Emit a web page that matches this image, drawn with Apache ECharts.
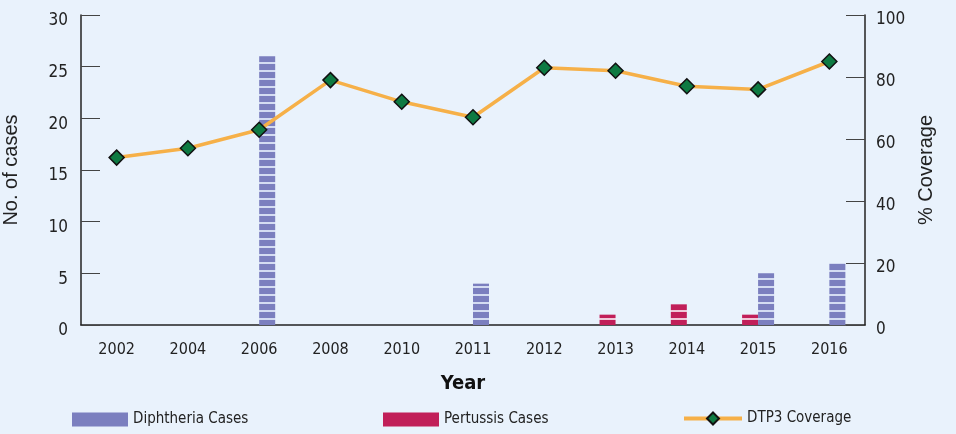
<!DOCTYPE html>
<html>
<head>
<meta charset="utf-8">
<script src="https://cdn.jsdelivr.net/npm/echarts@6/dist/echarts.min.js"></script>
<style>
  html, body { margin: 0; padding: 0; background: #e9f2fc; }
  #chart { width: 956px; height: 434px; }
</style>
</head>
<body>
<div id="chart"></div>
<script>
// data
const years = ['2002', '2004', '2006', '2008', '2010', '2011', '2012', '2013', '2014', '2015', '2016'];
const diphtheriaCases = [null, null, 26, null, null, 4, null, null, null, 5, 6];
const pertussisCases = [null, null, null, null, null, null, null, 1, 2, 1, null];
const dtp3Coverage = [54, 57, 63, 79, 72, 67, 83, 82, 77, 76, 85];

const narrow = '"DejaVu Sans Condensed", "Liberation Sans Narrow", "Arial Narrow", sans-serif';
const regular = '"Liberation Sans", Arial, sans-serif';

// striped fill like the original bars
function stripes (base, line) {
  const c = document.createElement('canvas');
  c.width = 16;
  c.height = 8;
  const ctx = c.getContext('2d');
  ctx.fillStyle = base;
  ctx.fillRect(0, 0, 16, 8);
  ctx.fillStyle = line;
  ctx.fillRect(0, 6, 16, 2);
  return { image: c, repeat: 'repeat' };
}

const blue = '#7b7fbf';
const red = '#c11f59';

const chart = echarts.init(document.getElementById('chart'));
chart.setOption({
  backgroundColor: '#e9f2fc',
  animation: false,
  grid: { left: 81, right: 91, top: 15, bottom: 109, outerBoundsMode: 'none', containLabel: false },
  legend: [
    {
      left: 67, top: 407, itemWidth: 56, itemHeight: 14, itemGap: 0, icon: 'rect',
      textStyle: { fontFamily: narrow, fontSize: 15, color: '#222' },
      data: [{ name: 'Diphtheria Cases', itemStyle: { color: blue } }]
    },
    {
      left: 378, top: 407, itemWidth: 56, itemHeight: 14, itemGap: 0, icon: 'rect',
      textStyle: { fontFamily: narrow, fontSize: 15, color: '#222' },
      data: [{ name: 'Pertussis Cases', itemStyle: { color: red } }]
    },
    {
      left: 677, top: 406, itemWidth: 58, itemHeight: 15, itemGap: 0,
      textStyle: { fontFamily: narrow, fontSize: 15, color: '#222' },
      data: [{ name: 'DTP3 Coverage', lineStyle: { width: 4 } }]
    }
  ],
  xAxis: {
    type: 'category',
    data: years,
    name: 'Year',
    nameLocation: 'middle',
    nameGap: 49,
    nameTextStyle: { fontFamily: narrow, fontSize: 20, fontWeight: 'bold', color: '#111', padding: [0, 20, 0, 0] },
    axisLine: { lineStyle: { color: '#222', width: 1.5 } },
    axisTick: { inside: true, length: 8, lineStyle: { color: '#333' } },
    axisLabel: { fontFamily: narrow, fontSize: 16, color: '#222', margin: 17 }
  },
  yAxis: [
    {
      type: 'value',
      min: 0, max: 30, interval: 5,
      name: 'No. of cases',
      nameLocation: 'middle',
      nameGap: 60,
      nameTextStyle: { fontFamily: regular, fontSize: 20, color: '#222' },
      axisLine: { show: true, lineStyle: { color: '#222', width: 1.5 } },
      axisTick: { show: true, inside: true, length: 19, lineStyle: { color: '#444' } },
      axisLabel: { fontFamily: narrow, fontSize: 17, color: '#222', margin: 13, verticalAlign: 'top', lineHeight: 12 },
      splitLine: { show: false }
    },
    {
      type: 'value',
      min: 0, max: 100, interval: 20,
      name: '% Coverage',
      nameLocation: 'middle',
      nameGap: 45,
      nameTextStyle: { fontFamily: regular, fontSize: 20, color: '#222' },
      axisLine: { show: true, lineStyle: { color: '#222', width: 1.5 } },
      axisTick: { show: true, inside: true, length: 19, lineStyle: { color: '#444' } },
      axisLabel: { fontFamily: narrow, fontSize: 17, color: '#222', margin: 11, verticalAlign: 'top', lineHeight: 10 },
      splitLine: { show: false }
    }
  ],
  series: [
    {
      name: 'Pertussis Cases',
      type: 'bar',
      barWidth: 16,
      barGap: '0%',
      itemStyle: { color: stripes(red, '#f0c8d8') },
      data: pertussisCases
    },
    {
      name: 'Diphtheria Cases',
      type: 'bar',
      barWidth: 16,
      barGap: '0%',
      itemStyle: { color: stripes(blue, '#d4dcf2') },
      data: diphtheriaCases
    },
    {
      name: 'DTP3 Coverage',
      type: 'line',
      yAxisIndex: 1,
      z: 5,
      symbol: 'diamond',
      symbolSize: 15,
      lineStyle: { color: '#f6b048', width: 3.5 },
      itemStyle: { color: '#0e7a42', borderColor: '#111', borderWidth: 1.5 },
      data: dtp3Coverage
    }
  ]
});
</script>
</body>
</html>
